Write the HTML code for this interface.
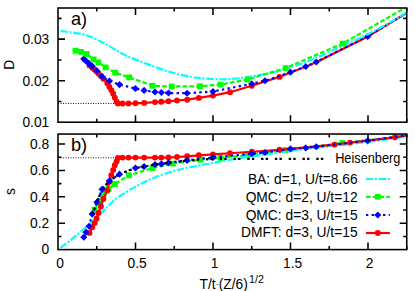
<!DOCTYPE html>
<html><head><meta charset="utf-8"><title>plot</title>
<style>html,body{margin:0;padding:0;background:#fff;}body{width:415px;height:291px;overflow:hidden;position:relative;font-family:"Liberation Sans",sans-serif;}</style>
</head><body>
<svg width="415" height="291" viewBox="0 0 415 291" style="position:absolute;left:0;top:0;opacity:0.999">
<rect width="415" height="291" fill="#fff"/>
<defs><clipPath id="ca"><rect x="58.0" y="8.0" width="348.75" height="114.2"/></clipPath><clipPath id="cb"><rect x="58.0" y="134.05" width="348.75" height="115.54999999999998"/></clipPath></defs>
<path d="M58.0,103.5 H118" stroke="#000" stroke-width="0.9" stroke-dasharray="1 1.5" fill="none"/>
<path d="M58.0,157.8 H118" stroke="#000" stroke-width="0.9" stroke-dasharray="1 1.5" fill="none"/>
<g>
<path d="M89.50,65.39 L92.25,67.71 L94.75,69.79 L96.60,71.60 L98.50,73.50 L100.90,76.01 L103.40,78.83 L107.30,83.31 L109.30,86.74 L111.30,90.08 L113.20,93.64 L114.80,97.61 L116.60,101.58 L117.90,103.50 L122.50,103.50 L128.50,103.50 L135.50,103.30 L144.20,102.90 L155.00,102.10 L161.30,101.80 L168.50,101.30 L177.00,100.50 L187.20,99.70 L198.80,97.90 L213.00,95.60 L230.00,92.20 L251.75,85.70 L279.50,76.90 L290.50,72.50 L305.75,66.80 L316.25,62.30 L367.70,36.60 L406.75,12.90" stroke="#ff0000" stroke-width="2.2" fill="none" clip-path="url(#ca)" stroke-linejoin="round"/>
<circle cx="89.50" cy="65.39" r="2.95" fill="#ff0000"/>
<circle cx="92.25" cy="67.71" r="2.95" fill="#ff0000"/>
<circle cx="94.75" cy="69.79" r="2.95" fill="#ff0000"/>
<circle cx="96.60" cy="71.60" r="2.95" fill="#ff0000"/>
<circle cx="98.50" cy="73.50" r="2.95" fill="#ff0000"/>
<circle cx="100.90" cy="76.01" r="2.95" fill="#ff0000"/>
<circle cx="103.40" cy="78.83" r="2.95" fill="#ff0000"/>
<circle cx="107.30" cy="83.31" r="2.95" fill="#ff0000"/>
<circle cx="109.30" cy="86.74" r="2.95" fill="#ff0000"/>
<circle cx="111.30" cy="90.08" r="2.95" fill="#ff0000"/>
<circle cx="113.20" cy="93.64" r="2.95" fill="#ff0000"/>
<circle cx="114.80" cy="97.61" r="2.95" fill="#ff0000"/>
<circle cx="116.60" cy="101.58" r="2.95" fill="#ff0000"/>
<circle cx="117.90" cy="103.50" r="2.95" fill="#ff0000"/>
<circle cx="122.50" cy="103.50" r="2.95" fill="#ff0000"/>
<circle cx="128.50" cy="103.50" r="2.95" fill="#ff0000"/>
<circle cx="135.50" cy="103.30" r="2.95" fill="#ff0000"/>
<circle cx="144.20" cy="102.90" r="2.95" fill="#ff0000"/>
<circle cx="155.00" cy="102.10" r="2.95" fill="#ff0000"/>
<circle cx="161.30" cy="101.80" r="2.95" fill="#ff0000"/>
<circle cx="168.50" cy="101.30" r="2.95" fill="#ff0000"/>
<circle cx="177.00" cy="100.50" r="2.95" fill="#ff0000"/>
<circle cx="187.20" cy="99.70" r="2.95" fill="#ff0000"/>
<circle cx="198.80" cy="97.90" r="2.95" fill="#ff0000"/>
<circle cx="213.00" cy="95.60" r="2.95" fill="#ff0000"/>
<circle cx="230.00" cy="92.20" r="2.95" fill="#ff0000"/>
<circle cx="251.75" cy="85.70" r="2.95" fill="#ff0000"/>
<circle cx="279.50" cy="76.90" r="2.95" fill="#ff0000"/>
<path d="M83.80,58.90 L86.00,61.00 L89.10,63.70 L92.20,66.20 L96.90,70.90 L102.10,76.60 L109.40,81.00 L119.50,84.60 L135.40,88.50 L144.10,90.40 L155.00,92.00 L161.40,92.50 L168.50,93.00 L187.00,93.25 L213.00,91.50 L251.75,83.75 L265.00,80.75 L290.50,72.20 L305.75,66.50 L316.25,62.00 L367.70,36.40 L406.75,12.80" stroke="#0000ff" stroke-width="2.2" fill="none" stroke-dasharray="2.4 3.3" clip-path="url(#ca)" stroke-linejoin="round"/>
<path d="M80.20,58.90 L83.80,55.30 L87.40,58.90 L83.80,62.50Z" fill="#0000ff"/>
<path d="M82.40,61.00 L86.00,57.40 L89.60,61.00 L86.00,64.60Z" fill="#0000ff"/>
<path d="M85.50,63.70 L89.10,60.10 L92.70,63.70 L89.10,67.30Z" fill="#0000ff"/>
<path d="M88.60,66.20 L92.20,62.60 L95.80,66.20 L92.20,69.80Z" fill="#0000ff"/>
<path d="M93.30,70.90 L96.90,67.30 L100.50,70.90 L96.90,74.50Z" fill="#0000ff"/>
<path d="M98.50,76.60 L102.10,73.00 L105.70,76.60 L102.10,80.20Z" fill="#0000ff"/>
<path d="M105.80,81.00 L109.40,77.40 L113.00,81.00 L109.40,84.60Z" fill="#0000ff"/>
<path d="M115.90,84.60 L119.50,81.00 L123.10,84.60 L119.50,88.20Z" fill="#0000ff"/>
<path d="M131.80,88.50 L135.40,84.90 L139.00,88.50 L135.40,92.10Z" fill="#0000ff"/>
<path d="M140.50,90.40 L144.10,86.80 L147.70,90.40 L144.10,94.00Z" fill="#0000ff"/>
<path d="M151.40,92.00 L155.00,88.40 L158.60,92.00 L155.00,95.60Z" fill="#0000ff"/>
<path d="M157.80,92.50 L161.40,88.90 L165.00,92.50 L161.40,96.10Z" fill="#0000ff"/>
<path d="M164.90,93.00 L168.50,89.40 L172.10,93.00 L168.50,96.60Z" fill="#0000ff"/>
<path d="M183.40,93.25 L187.00,89.65 L190.60,93.25 L187.00,96.85Z" fill="#0000ff"/>
<path d="M209.40,91.50 L213.00,87.90 L216.60,91.50 L213.00,95.10Z" fill="#0000ff"/>
<path d="M248.15,83.75 L251.75,80.15 L255.35,83.75 L251.75,87.35Z" fill="#0000ff"/>
<path d="M261.40,80.75 L265.00,77.15 L268.60,80.75 L265.00,84.35Z" fill="#0000ff"/>
<path d="M286.90,72.20 L290.50,68.60 L294.10,72.20 L290.50,75.80Z" fill="#0000ff"/>
<path d="M302.15,66.50 L305.75,62.90 L309.35,66.50 L305.75,70.10Z" fill="#0000ff"/>
<path d="M312.65,62.00 L316.25,58.40 L319.85,62.00 L316.25,65.60Z" fill="#0000ff"/>
<path d="M364.10,36.40 L367.70,32.80 L371.30,36.40 L367.70,40.00Z" fill="#0000ff"/>
<path d="M60.60,31.15 C61.17,31.19 62.43,31.24 64.00,31.40 C65.57,31.56 67.12,31.68 70.00,32.10 C72.88,32.52 77.97,33.15 81.30,33.90 C84.63,34.65 87.18,35.55 90.00,36.60 C92.82,37.65 95.53,38.92 98.20,40.20 C100.87,41.48 103.20,42.75 106.00,44.30 C108.80,45.85 111.67,47.62 115.00,49.50 C118.33,51.38 121.00,53.32 126.00,55.60 C131.00,57.88 137.67,60.47 145.00,63.20 C152.33,65.93 161.67,69.62 170.00,72.00 C178.33,74.38 186.67,76.29 195.00,77.50 C203.33,78.71 213.33,79.05 220.00,79.25 C226.67,79.45 230.00,79.12 235.00,78.70 C240.00,78.28 243.33,77.87 250.00,76.75 C256.67,75.63 268.33,73.51 275.00,72.00 C281.67,70.49 285.17,69.23 290.00,67.70 C294.83,66.17 299.60,64.45 304.00,62.80 C308.40,61.15 312.07,59.63 316.40,57.80 C320.73,55.97 325.58,53.80 330.00,51.80 C334.42,49.80 338.73,47.73 342.90,45.80 C347.07,43.87 350.85,42.13 355.00,40.20 C359.15,38.27 362.97,36.60 367.80,34.20 C372.63,31.80 379.47,28.27 384.00,25.80 C388.53,23.33 391.21,21.63 395.00,19.40 C398.79,17.17 404.79,13.57 406.75,12.40" stroke="#00ffff" stroke-width="2.2" fill="none" stroke-dasharray="7.4 1.6 2.0 1.9" clip-path="url(#ca)" stroke-linejoin="round"/>
<path d="M75.40,50.70 L81.00,51.90 L86.70,54.00 L93.60,59.40 L98.40,62.40 L105.50,67.40 L115.20,72.60 L129.20,77.40 L152.50,85.75 L171.75,86.50 L200.00,86.25 L220.50,84.60 L247.50,79.50 L285.60,68.10 L342.60,43.60 L406.75,6.90" stroke="#00ff00" stroke-width="2.2" fill="none" stroke-dasharray="4.6 2.2" clip-path="url(#ca)" stroke-linejoin="round"/>
<rect x="72.50" y="47.80" width="5.8" height="5.8" fill="#00ff00"/>
<rect x="78.10" y="49.00" width="5.8" height="5.8" fill="#00ff00"/>
<rect x="83.80" y="51.10" width="5.8" height="5.8" fill="#00ff00"/>
<rect x="90.70" y="56.50" width="5.8" height="5.8" fill="#00ff00"/>
<rect x="95.50" y="59.50" width="5.8" height="5.8" fill="#00ff00"/>
<rect x="102.60" y="64.50" width="5.8" height="5.8" fill="#00ff00"/>
<rect x="112.30" y="69.70" width="5.8" height="5.8" fill="#00ff00"/>
<rect x="126.30" y="74.50" width="5.8" height="5.8" fill="#00ff00"/>
<rect x="149.60" y="82.85" width="5.8" height="5.8" fill="#00ff00"/>
<rect x="168.85" y="83.60" width="5.8" height="5.8" fill="#00ff00"/>
<rect x="197.10" y="83.35" width="5.8" height="5.8" fill="#00ff00"/>
<rect x="217.60" y="81.70" width="5.8" height="5.8" fill="#00ff00"/>
<rect x="244.60" y="76.60" width="5.8" height="5.8" fill="#00ff00"/>
<rect x="282.70" y="65.20" width="5.8" height="5.8" fill="#00ff00"/>
<rect x="339.70" y="40.70" width="5.8" height="5.8" fill="#00ff00"/>
</g>
<g>
<path d="M94.50,209.75 L99.00,201.60 L103.50,194.00 L108.50,189.00 L115.00,184.00 L129.00,175.30 L152.50,168.00 L173.00,163.60 L200.50,159.80 L220.50,158.00 L247.50,155.00 L285.75,150.00 L342.50,143.00 L406.60,135.60" stroke="#00ff00" stroke-width="2.2" fill="none" stroke-dasharray="4.6 2.2" clip-path="url(#cb)" stroke-linejoin="round"/>
<rect x="91.60" y="206.85" width="5.8" height="5.8" fill="#00ff00"/>
<rect x="96.10" y="198.70" width="5.8" height="5.8" fill="#00ff00"/>
<rect x="100.60" y="191.10" width="5.8" height="5.8" fill="#00ff00"/>
<rect x="105.60" y="186.10" width="5.8" height="5.8" fill="#00ff00"/>
<rect x="112.10" y="181.10" width="5.8" height="5.8" fill="#00ff00"/>
<rect x="126.10" y="172.40" width="5.8" height="5.8" fill="#00ff00"/>
<rect x="149.60" y="165.10" width="5.8" height="5.8" fill="#00ff00"/>
<rect x="170.10" y="160.70" width="5.8" height="5.8" fill="#00ff00"/>
<rect x="197.60" y="156.90" width="5.8" height="5.8" fill="#00ff00"/>
<rect x="217.60" y="155.10" width="5.8" height="5.8" fill="#00ff00"/>
<rect x="244.60" y="152.10" width="5.8" height="5.8" fill="#00ff00"/>
<rect x="282.85" y="147.10" width="5.8" height="5.8" fill="#00ff00"/>
<rect x="339.60" y="140.10" width="5.8" height="5.8" fill="#00ff00"/>
<path d="M60.40,247.90 C62.00,246.68 66.57,243.33 70.00,240.60 C73.43,237.87 77.50,234.47 81.00,231.50 C84.50,228.53 87.17,226.37 91.00,222.80 C94.83,219.23 100.83,213.20 104.00,210.10 C107.17,207.00 107.58,206.38 110.00,204.20 C112.42,202.02 115.00,199.52 118.50,197.00 C122.00,194.48 126.83,191.50 131.00,189.10 C135.17,186.70 139.33,184.62 143.50,182.60 C147.67,180.58 151.25,178.83 156.00,177.00 C160.75,175.17 167.17,173.05 172.00,171.60 C176.83,170.15 178.67,169.65 185.00,168.30 C191.33,166.95 203.33,164.77 210.00,163.50 C216.67,162.23 218.33,161.87 225.00,160.70 C231.67,159.53 241.67,157.75 250.00,156.50 C258.33,155.25 266.67,154.35 275.00,153.20 C283.33,152.05 289.17,150.95 300.00,149.60 C310.83,148.25 326.67,146.65 340.00,145.10 C353.33,143.55 368.88,141.68 380.00,140.30 C391.12,138.92 402.29,137.38 406.75,136.80" stroke="#00ffff" stroke-width="2.2" fill="none" stroke-dasharray="7.4 1.6 2.0 1.9" clip-path="url(#cb)" stroke-linejoin="round"/>
<path d="M89.50,232.90 L92.25,227.25 L94.75,222.90 L96.60,218.50 L98.50,212.90 L100.90,206.40 L103.40,199.00 L107.30,190.40 L109.30,182.00 L111.30,175.20 L113.20,170.00 L114.80,165.20 L116.60,161.50 L117.90,158.00 L122.50,157.60 L128.50,157.60 L135.50,157.60 L144.20,157.60 L155.00,157.60 L161.30,157.60 L168.50,157.50 L177.00,157.00 L187.20,156.30 L198.80,155.30 L213.00,154.40 L230.00,153.25 L251.75,151.75 L279.50,149.80 L334.50,144.60 L350.00,142.60 L395.00,137.30 L406.60,135.30" stroke="#ff0000" stroke-width="2.2" fill="none" clip-path="url(#cb)" stroke-linejoin="round"/>
<circle cx="89.50" cy="232.90" r="2.95" fill="#ff0000"/>
<circle cx="92.25" cy="227.25" r="2.95" fill="#ff0000"/>
<circle cx="94.75" cy="222.90" r="2.95" fill="#ff0000"/>
<circle cx="96.60" cy="218.50" r="2.95" fill="#ff0000"/>
<circle cx="98.50" cy="212.90" r="2.95" fill="#ff0000"/>
<circle cx="100.90" cy="206.40" r="2.95" fill="#ff0000"/>
<circle cx="103.40" cy="199.00" r="2.95" fill="#ff0000"/>
<circle cx="107.30" cy="190.40" r="2.95" fill="#ff0000"/>
<circle cx="109.30" cy="182.00" r="2.95" fill="#ff0000"/>
<circle cx="111.30" cy="175.20" r="2.95" fill="#ff0000"/>
<circle cx="113.20" cy="170.00" r="2.95" fill="#ff0000"/>
<circle cx="114.80" cy="165.20" r="2.95" fill="#ff0000"/>
<circle cx="116.60" cy="161.50" r="2.95" fill="#ff0000"/>
<circle cx="117.90" cy="158.00" r="2.95" fill="#ff0000"/>
<circle cx="122.50" cy="157.60" r="2.95" fill="#ff0000"/>
<circle cx="128.50" cy="157.60" r="2.95" fill="#ff0000"/>
<circle cx="135.50" cy="157.60" r="2.95" fill="#ff0000"/>
<circle cx="144.20" cy="157.60" r="2.95" fill="#ff0000"/>
<circle cx="155.00" cy="157.60" r="2.95" fill="#ff0000"/>
<circle cx="161.30" cy="157.60" r="2.95" fill="#ff0000"/>
<circle cx="168.50" cy="157.50" r="2.95" fill="#ff0000"/>
<circle cx="177.00" cy="157.00" r="2.95" fill="#ff0000"/>
<circle cx="187.20" cy="156.30" r="2.95" fill="#ff0000"/>
<circle cx="198.80" cy="155.30" r="2.95" fill="#ff0000"/>
<circle cx="213.00" cy="154.40" r="2.95" fill="#ff0000"/>
<circle cx="230.00" cy="153.25" r="2.95" fill="#ff0000"/>
<circle cx="251.75" cy="151.75" r="2.95" fill="#ff0000"/>
<circle cx="279.50" cy="149.80" r="2.95" fill="#ff0000"/>
<circle cx="334.50" cy="144.60" r="2.95" fill="#ff0000"/>
<circle cx="350.00" cy="142.60" r="2.95" fill="#ff0000"/>
<circle cx="395.00" cy="137.30" r="2.95" fill="#ff0000"/>
<path d="M83.80,237.25 L86.00,232.25 L89.10,226.25 L92.20,214.10 L96.90,202.30 L102.10,189.30 L109.40,180.90 L119.50,174.20 L135.40,168.00 L144.10,166.60 L155.00,164.50 L161.40,163.90 L168.50,162.80 L187.00,160.30 L213.00,157.50 L251.75,153.75 L265.00,152.50 L290.50,148.90 L305.75,147.90 L316.25,146.75 L367.70,140.80 L406.60,135.30" stroke="#0000ff" stroke-width="2.2" fill="none" stroke-dasharray="2.4 3.3" clip-path="url(#cb)" stroke-linejoin="round"/>
<path d="M80.20,237.25 L83.80,233.65 L87.40,237.25 L83.80,240.85Z" fill="#0000ff"/>
<path d="M82.40,232.25 L86.00,228.65 L89.60,232.25 L86.00,235.85Z" fill="#0000ff"/>
<path d="M85.50,226.25 L89.10,222.65 L92.70,226.25 L89.10,229.85Z" fill="#0000ff"/>
<path d="M88.60,214.10 L92.20,210.50 L95.80,214.10 L92.20,217.70Z" fill="#0000ff"/>
<path d="M93.30,202.30 L96.90,198.70 L100.50,202.30 L96.90,205.90Z" fill="#0000ff"/>
<path d="M98.50,189.30 L102.10,185.70 L105.70,189.30 L102.10,192.90Z" fill="#0000ff"/>
<path d="M105.80,180.90 L109.40,177.30 L113.00,180.90 L109.40,184.50Z" fill="#0000ff"/>
<path d="M115.90,174.20 L119.50,170.60 L123.10,174.20 L119.50,177.80Z" fill="#0000ff"/>
<path d="M131.80,168.00 L135.40,164.40 L139.00,168.00 L135.40,171.60Z" fill="#0000ff"/>
<path d="M140.50,166.60 L144.10,163.00 L147.70,166.60 L144.10,170.20Z" fill="#0000ff"/>
<path d="M151.40,164.50 L155.00,160.90 L158.60,164.50 L155.00,168.10Z" fill="#0000ff"/>
<path d="M157.80,163.90 L161.40,160.30 L165.00,163.90 L161.40,167.50Z" fill="#0000ff"/>
<path d="M164.90,162.80 L168.50,159.20 L172.10,162.80 L168.50,166.40Z" fill="#0000ff"/>
<path d="M183.40,160.30 L187.00,156.70 L190.60,160.30 L187.00,163.90Z" fill="#0000ff"/>
<path d="M209.40,157.50 L213.00,153.90 L216.60,157.50 L213.00,161.10Z" fill="#0000ff"/>
<path d="M248.15,153.75 L251.75,150.15 L255.35,153.75 L251.75,157.35Z" fill="#0000ff"/>
<path d="M261.40,152.50 L265.00,148.90 L268.60,152.50 L265.00,156.10Z" fill="#0000ff"/>
<path d="M286.90,148.90 L290.50,145.30 L294.10,148.90 L290.50,152.50Z" fill="#0000ff"/>
<path d="M302.15,147.90 L305.75,144.30 L309.35,147.90 L305.75,151.50Z" fill="#0000ff"/>
<path d="M312.65,146.75 L316.25,143.15 L319.85,146.75 L316.25,150.35Z" fill="#0000ff"/>
<path d="M364.10,140.80 L367.70,137.20 L371.30,140.80 L367.70,144.40Z" fill="#0000ff"/>
<path d="M92.50,214.10 L97.20,201.60 L102.10,189.10 L109.60,180.90 L119.50,174.20 L135.20,168.00 L144.10,166.60 L155.00,164.50 L161.50,163.90 L168.80,162.80 L187.00,160.60 L205.00,159.30 L225.00,158.90 L323.80,158.90" stroke="#000" stroke-width="2.2" fill="none" stroke-dasharray="2.4 2.2 2.4 6.8" clip-path="url(#cb)" stroke-linejoin="round"/>
</g>
<rect x="58.0" y="8.0" width="348.75" height="114.2" fill="none" stroke="#000" stroke-width="1.55"/>
<rect x="58.0" y="134.05" width="348.75" height="115.54999999999998" fill="none" stroke="#000" stroke-width="1.55"/>
<path d="M96.75,122.2 v-3.5 M96.75,8.0 v3.5 M135.50,122.2 v-7.0 M135.50,8.0 v7.0 M174.25,122.2 v-3.5 M174.25,8.0 v3.5 M213.00,122.2 v-7.0 M213.00,8.0 v7.0 M251.75,122.2 v-3.5 M251.75,8.0 v3.5 M290.50,122.2 v-7.0 M290.50,8.0 v7.0 M329.25,122.2 v-3.5 M329.25,8.0 v3.5 M368.00,122.2 v-7.0 M368.00,8.0 v7.0 M406.75,122.2 v-3.5 M406.75,8.0 v3.5 M96.75,249.6 v-3.5 M96.75,134.05 v3.5 M135.50,249.6 v-7.0 M135.50,134.05 v7.0 M174.25,249.6 v-3.5 M174.25,134.05 v3.5 M213.00,249.6 v-7.0 M213.00,134.05 v7.0 M251.75,249.6 v-3.5 M251.75,134.05 v3.5 M290.50,249.6 v-7.0 M290.50,134.05 v7.0 M329.25,249.6 v-3.5 M329.25,134.05 v3.5 M368.00,249.6 v-7.0 M368.00,134.05 v7.0 M406.75,249.6 v-3.5 M406.75,134.05 v3.5 M58.0,101.44 h3.5 M406.75,101.44 h-3.5 M58.0,80.67 h7.0 M406.75,80.67 h-7.0 M58.0,59.91 h3.5 M406.75,59.91 h-3.5 M58.0,39.14 h7.0 M406.75,39.14 h-7.0 M58.0,18.38 h3.5 M406.75,18.38 h-3.5 M58.0,236.40 h3.5 M406.75,236.40 h-3.5 M58.0,223.20 h7.0 M406.75,223.20 h-7.0 M58.0,210.00 h3.5 M406.75,210.00 h-3.5 M58.0,196.80 h7.0 M406.75,196.80 h-7.0 M58.0,183.60 h3.5 M406.75,183.60 h-3.5 M58.0,170.40 h7.0 M406.75,170.40 h-7.0 M58.0,157.20 h3.5 M406.75,157.20 h-3.5 M58.0,144.00 h7.0 M406.75,144.00 h-7.0" stroke="#000" stroke-width="1.55" fill="none"/>
<path d="M365.9,179 H389.9" stroke="#00ffff" stroke-width="2.2" stroke-dasharray="7.4 1.6 2.0 1.9"/>
<path d="M365.9,196.8 H389.9" stroke="#00ff00" stroke-width="2.2" stroke-dasharray="4.6 2.2"/>
<rect x="374.90" y="193.90" width="5.8" height="5.8" fill="#00ff00"/>
<path d="M365.9,215 H389.9" stroke="#0000ff" stroke-width="2.2" stroke-dasharray="2.4 3.3"/>
<path d="M374.20,215.00 L377.80,211.40 L381.40,215.00 L377.80,218.60Z" fill="#0000ff"/>
<path d="M365.9,233.0 H389.9" stroke="#ff0000" stroke-width="2.2"/>
<circle cx="377.80" cy="233.00" r="2.95" fill="#ff0000"/>
<g font-family="'Liberation Sans', sans-serif" fill="#000">
<text x="49.3" y="127.2" font-size="13.8" text-anchor="end" >0.01</text>
<text x="49.3" y="85.67" font-size="13.8" text-anchor="end" >0.02</text>
<text x="49.3" y="44.14" font-size="13.8" text-anchor="end" >0.03</text>
<text x="49.3" y="253.9" font-size="13.8" text-anchor="end" >0</text>
<text x="49.3" y="228.2" font-size="13.8" text-anchor="end" >0.2</text>
<text x="49.3" y="201.8" font-size="13.8" text-anchor="end" >0.4</text>
<text x="49.3" y="175.4" font-size="13.8" text-anchor="end" >0.6</text>
<text x="49.3" y="149.0" font-size="13.8" text-anchor="end" >0.8</text>
<text x="60.0" y="267.6" font-size="13.8" text-anchor="middle" >0</text>
<text x="137.2" y="267.6" font-size="13.8" text-anchor="middle" >0.5</text>
<text x="214.7" y="267.6" font-size="13.8" text-anchor="middle" >1</text>
<text x="292.6" y="267.6" font-size="13.8" text-anchor="middle" >1.5</text>
<text x="369.7" y="267.6" font-size="13.8" text-anchor="middle" >2</text>
<text x="70.9" y="24.8" font-size="18.2" text-anchor="start" >a)</text>
<text x="70.9" y="150.8" font-size="18.2" text-anchor="start" >b)</text>
<text x="357.6" y="183.9" font-size="13.8" text-anchor="end" >BA: d=1, U/t=8.66</text>
<text x="357.6" y="201.8" font-size="13.8" text-anchor="end" >QMC: d=2, U/t=12</text>
<text x="357.6" y="219.5" font-size="13.8" text-anchor="end" >QMC: d=3, U/t=15</text>
<text x="357.6" y="237.2" font-size="13.8" text-anchor="end" >DMFT: d=3, U/t=15</text>
<text transform="translate(400.4,162.5) scale(0.925,1)" font-size="13.8" text-anchor="end">Heisenberg</text>
<text x="199.6" y="289.2" font-size="13.8">T/t<tspan font-size="9" dy="-2">·</tspan><tspan dy="2">(Z/6)</tspan><tspan font-size="10.7" dy="-6.7" dx="1.2">1/2</tspan></text>
<text transform="translate(14.4,64.8) rotate(-90)" font-size="13.8" text-anchor="middle">D</text>
<text transform="translate(14.8,191.5) rotate(-90)" font-size="13.8" text-anchor="middle">s</text>
</g>
</svg>
</body></html>
